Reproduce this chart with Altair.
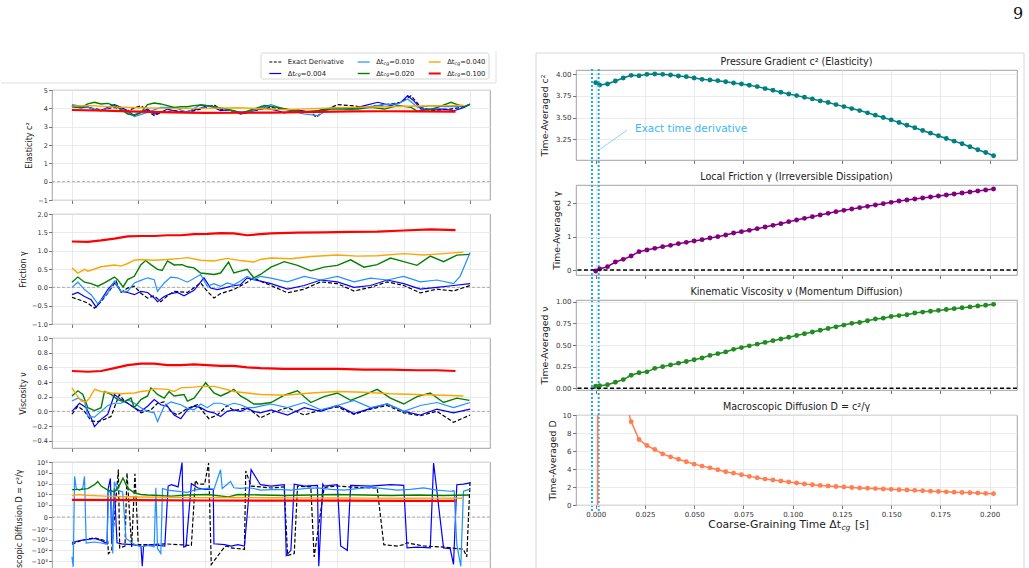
import altair as alt
import pandas as pd

# ============================ RIGHT FIGURE (time-averaged coefficients) ============================
DT = [0.0] + [round(0.002 + 0.004 * k, 3) for k in range(51)]
C2_AVG = [3.904, 3.877, 3.888, 3.923, 3.957, 3.988, 3.984, 4.000, 4.003, 4.000, 3.992, 3.980,
          3.973, 3.957, 3.942, 3.934, 3.927, 3.915, 3.900, 3.888, 3.873, 3.858, 3.835,
          3.816, 3.793, 3.773, 3.754, 3.735, 3.716, 3.693, 3.674, 3.650, 3.627, 3.604, 3.581,
          3.555, 3.528, 3.501, 3.474, 3.443, 3.412, 3.382, 3.351, 3.320, 3.290, 3.259, 3.228,
          3.197, 3.163, 3.128, 3.097, 3.059]
GAMMA_AVG = [-0.03, 0.03, 0.10, 0.24, 0.32, 0.42, 0.55, 0.60, 0.65, 0.70, 0.74, 0.79, 0.83, 0.87,
             0.91, 0.96, 1.00, 1.05, 1.11, 1.15, 1.19, 1.24, 1.29, 1.34, 1.39, 1.45, 1.50, 1.55,
             1.60, 1.65, 1.70, 1.75, 1.79, 1.83, 1.87, 1.91, 1.95, 1.99, 2.03, 2.07, 2.10, 2.13,
             2.16, 2.19, 2.22, 2.25, 2.28, 2.31, 2.34, 2.37, 2.40, 2.43]
NU_AVG = [0.023, 0.03, 0.04, 0.07, 0.10, 0.15, 0.18, 0.19, 0.23, 0.25, 0.27, 0.29, 0.31, 0.33,
          0.35, 0.38, 0.40, 0.42, 0.45, 0.47, 0.49, 0.51, 0.53, 0.55, 0.57, 0.59, 0.61, 0.63,
          0.65, 0.67, 0.69, 0.71, 0.73, 0.75, 0.76, 0.78, 0.80, 0.81, 0.83, 0.84, 0.85, 0.87,
          0.88, 0.89, 0.90, 0.91, 0.92, 0.93, 0.94, 0.95, 0.96, 0.97]
D_AVG = [-130, 129, 38.9, 16.2, 12.4, 9.26, 7.27, 6.61, 6.16, 5.68, 5.35, 5.09, 4.80, 4.54,
         4.32, 4.13, 3.91, 3.69, 3.54, 3.36, 3.18, 3.03, 2.88, 2.77, 2.66, 2.55, 2.44, 2.33,
         2.25, 2.18, 2.11, 2.05, 2.00, 1.95, 1.90, 1.86, 1.82, 1.78, 1.74, 1.70, 1.66, 1.62,
         1.58, 1.54, 1.50, 1.46, 1.42, 1.39, 1.36, 1.33, 1.29, 1.26]
EXACT_BAND = [-0.0019, 0.0015]
R_XTICKS = [0.0, 0.025, 0.05, 0.075, 0.1, 0.125, 0.15, 0.175, 0.2]

# ============================ LEFT FIGURE (time series) ============================
# Elasticity c^2
C2_EX_T = [0.0, 0.24, 0.44, 0.64, 0.84, 1.04, 1.14, 1.24, 1.34, 1.54, 1.74, 2.04, 2.14, 2.24, 2.44, 2.64,
           2.70, 3.0, 3.30, 3.61, 3.68, 3.80, 4.0, 4.21, 4.41, 4.61, 4.81, 4.96, 5.11, 5.26, 5.41, 5.71, 5.91, 6.0]
C2_EX = [4.15, 4.05, 3.91, 4.05, 3.87, 4.15, 3.87, 3.60, 3.78, 3.87, 3.78, 4.05, 4.20, 3.96, 3.84, 3.73,
         3.85, 4.05, 3.91, 3.78, 3.51, 3.87, 4.20, 4.15, 4.05, 4.15, 4.24, 4.33, 4.69, 4.05, 3.87, 3.96, 4.09, 4.24]
C2_A_T = [0.0, 0.14, 0.24, 0.34, 0.44, 0.54, 0.64, 0.74, 0.84, 0.94, 1.04, 1.14, 1.24, 1.34, 1.44, 1.54,
          1.64, 1.74, 1.84, 1.94, 2.04, 2.14, 2.24, 2.34, 2.44, 2.54, 2.64, 2.90, 3.10, 3.20, 3.40, 3.60,
          3.81, 4.0, 4.21, 4.41, 4.61, 4.81, 4.96, 5.06, 5.16, 5.26, 5.41, 5.61, 5.76, 5.91, 5.99]
C2_A = [4.09, 4.02, 4.09, 3.91, 3.87, 4.05, 4.20, 4.05, 3.87, 3.60, 3.78, 3.96, 3.69, 3.78, 3.96, 3.87,
        3.78, 3.84, 3.91, 4.02, 4.15, 4.05, 3.87, 3.91, 3.87, 3.69, 3.78, 4.02, 3.87, 3.75, 3.91, 3.78,
        3.96, 4.02, 3.96, 4.15, 4.33, 4.15, 4.33, 4.69, 4.38, 3.96, 3.96, 3.96, 3.87, 4.05, 4.20]
C2_B_T = [0.0, 0.24, 0.44, 0.64, 0.84, 0.94, 1.14, 1.34, 1.54, 1.74, 1.94, 2.14, 2.44, 2.64, 3.0, 3.2,
          3.50, 3.71, 3.91, 4.21, 4.41, 4.71, 4.91, 5.06, 5.21, 5.41, 5.61, 5.91, 5.99]
C2_B = [4.20, 4.05, 3.87, 4.15, 3.78, 3.55, 3.78, 4.05, 4.05, 3.78, 4.20, 4.09, 3.84, 3.78, 4.20, 3.96,
        3.69, 3.60, 4.05, 3.96, 4.05, 4.20, 4.24, 4.51, 4.05, 4.15, 4.09, 4.09, 4.20]
C2_C_T = [0.0, 0.14, 0.24, 0.34, 0.44, 0.54, 0.64, 0.74, 0.84, 0.94, 1.04, 1.14, 1.24, 1.34, 1.44, 1.54,
          1.64, 1.74, 1.84, 1.94, 2.04, 2.14, 2.24, 2.34, 2.44, 2.54, 2.64, 2.90, 3.10, 3.30, 3.50, 3.71,
          3.91, 4.31, 4.51, 4.71, 4.91, 5.11, 5.21, 5.41, 5.51, 5.71, 5.81, 5.91, 5.99]
C2_C = [4.09, 4.05, 4.24, 4.33, 4.24, 4.27, 4.15, 3.96, 3.69, 3.64, 3.78, 4.20, 4.29, 4.24, 4.15, 4.05,
        4.09, 4.09, 4.15, 4.18, 4.15, 4.09, 4.02, 3.96, 3.87, 3.76, 3.84, 4.15, 4.05, 3.91, 3.82, 3.87,
        3.96, 3.96, 4.05, 3.96, 4.15, 4.05, 3.84, 3.96, 4.05, 4.33, 4.20, 4.09, 4.20]
C2_D_T = [0.0, 0.3, 0.6, 1.0, 1.5, 2.0, 2.5, 2.84, 3.2, 3.7, 4.2, 4.7, 5.2, 5.7, 5.9]
C2_D = [4.12, 4.15, 4.08, 4.03, 4.00, 4.00, 4.03, 3.98, 3.93, 4.00, 4.05, 4.09, 4.13, 4.15, 4.17]
C2_E_T = [0.0, 0.5, 1.0, 1.5, 2.0, 2.5, 3.0, 3.7, 4.2, 4.7, 5.2, 5.78]
C2_E = [3.91, 3.87, 3.82, 3.78, 3.75, 3.76, 3.77, 3.81, 3.83, 3.84, 3.83, 3.82]

# Friction gamma
G_EX_T = [0, 0.14, 0.24, 0.34, 0.44, 0.54, 0.665, 0.74, 0.84, 0.94, 1.04, 1.14, 1.24, 1.34, 1.44, 1.54,
          1.74, 1.94, 2.04, 2.14, 2.24, 2.44, 2.64, 2.74, 2.84,
          3.0, 3.25, 3.5, 3.75, 4.0, 4.25, 4.5, 4.75, 5.0, 5.25, 5.5, 5.75, 6.0]
G_EX = [-0.27, -0.36, -0.43, -0.57, -0.39, -0.16, 0.17, -0.14, -0.02, 0.03, -0.16, -0.29, -0.23, -0.39,
        -0.23, -0.11, -0.14, 0.12, -0.11, -0.29, -0.17, -0.06, 0.14, 0.26, 0.17,
        0.05, -0.15, -0.05, 0.15, 0.10, -0.10, 0.0, 0.15, 0.05, -0.15, -0.05, -0.10, 0.05]
G_A_T = [0, 0.09, 0.19, 0.29, 0.365, 0.44, 0.54, 0.64, 0.74, 0.84, 0.94, 1.04, 1.14, 1.24, 1.29, 1.39,
         1.49, 1.59, 1.69, 1.84, 1.99, 2.09, 2.19, 2.29, 2.39, 2.54, 2.64, 2.74, 2.84,
         3.0, 3.25, 3.5, 3.75, 4.0, 4.25, 4.5, 4.75, 5.0, 5.25, 5.5, 5.75, 6.0]
G_A = [-0.20, -0.14, -0.25, -0.34, -0.54, -0.34, -0.06, 0.14, -0.11, -0.14, -0.20, -0.11, -0.14, -0.29,
       -0.39, -0.25, -0.17, -0.14, -0.23, -0.08, 0.26, -0.02, -0.06, -0.02, 0.03, 0.07, 0.26, 0.21, 0.17,
       0.10, -0.05, 0.05, 0.20, 0.15, 0.0, 0.05, 0.20, 0.10, -0.05, 0.0, 0.05, 0.10]
G_B_T = [0, 0.09, 0.19, 0.29, 0.39, 0.54, 0.64, 0.74, 0.84, 0.94, 1.04, 1.14, 1.24, 1.29, 1.39, 1.49,
         1.59, 1.74, 1.94, 2.04, 2.14, 2.24, 2.34, 2.44, 2.54, 2.64, 2.74, 2.84,
         3.0, 3.25, 3.5, 3.75, 4.0, 4.25, 4.5, 4.75, 5.0, 5.25, 5.5, 5.75, 5.85, 6.0]
G_B = [0.0, 0.14, -0.06, -0.20, -0.45, -0.15, 0.17, -0.11, -0.11, 0.12, 0.19, 0.26, 0.21, -0.11, 0.12,
       0.28, 0.26, 0.14, 0.35, 0.03, 0.10, 0.03, 0.12, 0.07, 0.17, 0.30, 0.21, 0.30,
       0.25, 0.15, 0.30, 0.20, 0.30, 0.15, 0.25, 0.20, 0.30, 0.15, 0.20, 0.10, 0.30, 0.95]
G_C_T = [0, 0.09, 0.19, 0.29, 0.39, 0.49, 0.64, 0.69, 0.77, 0.84, 0.94, 1.04, 1.11, 1.19, 1.29, 1.36,
         1.44, 1.54, 1.66, 1.74, 1.84, 1.94, 2.14, 2.24, 2.36, 2.44, 2.54, 2.64, 2.74, 2.84,
         3.0, 3.2, 3.4, 3.6, 3.8, 4.0, 4.2, 4.4, 4.6, 4.8, 5.0, 5.2, 5.4, 5.6, 5.8, 5.99]
G_C = [0.14, 0.28, 0.14, 0.10, 0.03, 0.12, 0.28, 0.21, 0.01, 0.21, 0.30, 0.62, 0.73, 0.62, 0.49, 0.46,
       0.72, 0.61, 0.62, 0.56, 0.53, 0.39, 0.35, 0.39, 0.69, 0.39, 0.44, 0.49, 0.26, 0.35,
       0.55, 0.70, 0.60, 0.45, 0.55, 0.60, 0.75, 0.55, 0.62, 0.80, 0.70, 0.60, 0.85, 0.70, 0.88, 0.90]
G_D_T = [0, 0.09, 0.19, 0.24, 0.34, 0.44, 0.64, 0.74, 0.84, 0.94, 1.04, 1.24, 1.44, 1.64, 1.74, 1.94,
         2.14, 2.34, 2.54, 2.74, 2.84, 3.0, 3.3, 3.6, 4.0, 4.3, 4.6, 5.0, 5.3, 5.6, 5.9]
G_D = [0.53, 0.39, 0.49, 0.44, 0.50, 0.56, 0.61, 0.58, 0.65, 0.74, 0.76, 0.74, 0.76, 0.79, 0.81, 0.74,
       0.72, 0.79, 0.73, 0.69, 0.76, 0.80, 0.78, 0.84, 0.88, 0.85, 0.86, 0.92, 0.88, 0.92, 0.96]
G_E_T = [0, 0.24, 0.44, 0.64, 0.84, 1.04, 1.24, 1.44, 1.64, 1.84, 2.04, 2.24, 2.44, 2.64, 2.84,
         3.0, 3.4, 3.8, 4.2, 4.6, 5.0, 5.4, 5.78]
G_E = [1.25, 1.24, 1.28, 1.33, 1.39, 1.40, 1.40, 1.42, 1.42, 1.45, 1.46, 1.48, 1.47, 1.42, 1.45,
       1.47, 1.49, 1.50, 1.51, 1.52, 1.55, 1.58, 1.56]

# Viscosity nu
N_EX_T = [0, 0.09, 0.19, 0.29, 0.39, 0.49, 0.59, 0.715, 0.79, 0.94, 1.04, 1.19, 1.29, 1.39, 1.49, 1.59,
          1.74, 1.89, 1.99, 2.065, 2.19, 2.34, 2.44, 2.64, 2.79, 2.84,
          3.0, 3.25, 3.5, 3.75, 4.0, 4.25, 4.5, 4.75, 5.0, 5.25, 5.5, 5.75, 6.0]
N_EX = [-0.04, 0.07, 0.0, -0.13, -0.14, -0.11, -0.07, 0.23, 0.14, 0.05, -0.02, 0.02, 0.11, 0.13, 0.0,
        -0.05, 0.04, 0.09, -0.02, -0.10, -0.05, 0.08, 0.01, 0.05, -0.05, -0.09,
        -0.02, 0.05, -0.05, 0.02, 0.06, -0.04, 0.03, 0.08, -0.02, -0.06, 0.0, -0.15, -0.05]
N_A_T = [0, 0.115, 0.215, 0.29, 0.34, 0.44, 0.54, 0.64, 0.74, 0.84, 0.94, 1.04, 1.14, 1.24, 1.34, 1.44,
         1.54, 1.64, 1.74, 1.84, 1.94, 2.04, 2.14, 2.24, 2.34, 2.44, 2.54, 2.64, 2.74, 2.84,
         3.0, 3.25, 3.5, 3.75, 4.0, 4.25, 4.5, 4.75, 5.0, 5.25, 5.5, 5.75, 6.0]
N_A = [0.0, 0.11, 0.05, -0.09, -0.21, -0.11, -0.04, 0.23, 0.16, 0.11, 0.05, 0.0, 0.07, 0.16, 0.09, 0.07,
       -0.05, -0.10, 0.02, 0.07, 0.05, 0.0, -0.02, -0.07, 0.0, 0.02, 0.0, 0.04, 0.0, -0.02,
       0.02, -0.05, 0.05, 0.0, 0.08, -0.03, 0.04, 0.10, 0.0, -0.05, 0.03, -0.02, 0.03]
N_B_T = [0, 0.09, 0.19, 0.24, 0.34, 0.44, 0.54, 0.64, 0.74, 0.84, 0.94, 1.04, 1.14, 1.24, 1.29, 1.39,
         1.49, 1.64, 1.74, 1.84, 1.94, 2.04, 2.14, 2.24, 2.34, 2.44, 2.54, 2.64, 2.74, 2.84,
         3.0, 3.25, 3.5, 3.75, 4.0, 4.25, 4.5, 4.75, 5.0, 5.25, 5.5, 5.75, 6.0]
N_B = [0.14, 0.18, 0.14, -0.07, -0.08, 0.0, 0.08, 0.11, 0.11, 0.16, 0.11, 0.05, 0.0, -0.02, -0.14, 0.07,
       0.13, 0.09, 0.04, 0.02, 0.10, 0.05, 0.11, 0.11, 0.08, 0.11, 0.09, 0.05, 0.05, 0.07,
       0.10, 0.05, 0.12, 0.02, 0.08, 0.15, 0.05, 0.10, 0.0, 0.08, 0.12, 0.05, 0.12]
N_C_T = [0, 0.09, 0.165, 0.24, 0.34, 0.44, 0.49, 0.59, 0.69, 0.79, 0.89, 0.94, 1.04, 1.14, 1.19, 1.29,
         1.39, 1.465, 1.54, 1.69, 1.74, 1.84, 1.94, 2.015, 2.14, 2.24, 2.34, 2.44, 2.54, 2.64, 2.74, 2.84,
         3.0, 3.2, 3.4, 3.6, 3.8, 4.0, 4.2, 4.4, 4.6, 4.8, 5.0, 5.2, 5.4, 5.6, 5.8, 5.99]
N_C = [0.21, 0.28, 0.23, 0.05, 0.01, 0.05, 0.27, 0.23, 0.16, 0.13, 0.18, 0.05, 0.16, 0.21, 0.32, 0.23,
       0.18, 0.27, 0.21, 0.23, 0.14, 0.18, 0.30, 0.39, 0.25, 0.21, 0.25, 0.30, 0.21, 0.16, 0.10, 0.10,
       0.12, 0.22, 0.28, 0.12, 0.20, 0.25, 0.15, 0.22, 0.30, 0.18, 0.10, 0.20, 0.25, 0.12, 0.18, 0.15]
N_D_T = [0, 0.065, 0.14, 0.215, 0.265, 0.34, 0.44, 0.59, 0.74, 0.94, 1.04, 1.14, 1.24, 1.44, 1.54, 1.64,
         1.84, 1.94, 2.14, 2.24, 2.44, 2.64, 2.84, 3.2, 3.6, 4.0, 4.4, 4.8, 5.2, 5.6, 5.9]
N_D = [0.32, 0.23, 0.14, 0.13, 0.18, 0.30, 0.27, 0.25, 0.24, 0.25, 0.27, 0.28, 0.31, 0.30, 0.27, 0.32,
       0.33, 0.34, 0.34, 0.32, 0.27, 0.25, 0.23, 0.22, 0.25, 0.27, 0.26, 0.24, 0.23, 0.22, 0.21]
N_E_T = [0, 0.24, 0.44, 0.64, 0.84, 1.04, 1.24, 1.44, 1.64, 1.84, 2.04, 2.24, 2.44, 2.64, 2.84,
         3.2, 3.6, 4.0, 4.4, 4.8, 5.2, 5.5, 5.78]
N_E = [0.55, 0.54, 0.55, 0.59, 0.63, 0.65, 0.65, 0.63, 0.63, 0.64, 0.63, 0.62, 0.62, 0.60, 0.59,
       0.58, 0.58, 0.58, 0.57, 0.57, 0.56, 0.56, 0.55]

# Macroscopic diffusion D (symlog)
D_EX_T = [0.0, 0.14, 0.34, 0.44, 0.54, 0.55, 0.6, 0.7, 0.72, 0.8, 0.83, 0.9, 0.95, 1.0, 1.2, 1.4, 1.6,
          1.8, 1.86, 1.9, 2.0, 2.06, 2.1, 2.3, 2.33, 2.4, 2.6, 2.62, 2.7, 2.84,
          3.0, 3.2, 3.25, 3.35, 3.4, 3.6, 3.65, 3.8, 3.85, 4.0, 4.3, 4.6, 4.7, 4.9, 5.0, 5.05, 5.3,
          5.6, 5.9, 5.95, 6.0]
D_EX = [-27, -12, -7, -10, -15, -200, -100, 2000, -60, -40, 1000, -50, 800, -30, -30, -25, -30,
        -35, 200, 90, 90, 8000, -2000, -50, -40, -60, -80, 1500, 60, 50,
        40, 50, -300, -200, 60, 50, -400, 40, 50, 60, 45, 40, -30, -40, -30, -20, -40,
        -50, -80, -400, 200]
D_A_T = [0.0, 0.14, 0.34, 0.44, 0.53, 0.545, 0.58, 0.60, 0.64, 0.68, 0.75, 0.9, 1.04, 1.06, 1.08, 1.2,
         1.4, 1.45, 1.5, 1.6, 1.66, 1.685, 1.72, 1.8, 1.9, 2.0, 2.13, 2.14, 2.3, 2.4, 2.5, 2.6, 2.7, 2.84,
         3.0, 3.2, 3.23, 3.3, 3.35, 3.5, 3.7, 3.72, 3.78, 3.8, 4.0, 4.05, 4.15, 4.2, 4.5, 4.8, 5.0,
         5.05, 5.2, 5.4, 5.45, 5.6, 5.7, 5.75, 5.8, 5.9, 6.0]
D_A = [-19, -12, -8, -12, -24, 30, 300, -25, 40, -20, -25, -30, -40, -3000, -40, -30,
       -40, 60, 80, 50, 9000, -50, -40, 100, 40, 30, 30, -25, -30, -40, -30, -40, 2000, 80,
       60, 80, -300, -100, 90, 60, 70, -3000, 90, 60, 80, -40, -100, 70, 60, 80, 70,
       -60, -50, -60, 8000, -60, -70, -2000, 80, 90, 120]
D_B_T = [0.0, 0.02, 0.04, 0.065, 0.115, 0.165, 0.19, 0.215, 0.34, 0.44, 0.53, 0.55, 0.59, 0.615, 0.64,
         0.69, 0.765, 0.815, 0.94, 1.04, 1.14, 1.24, 1.265, 1.29, 1.34, 1.365, 1.44, 1.64, 1.74, 1.84,
         2.04, 2.14, 2.24, 2.265, 2.39, 2.44, 2.54, 2.64, 2.74, 2.84,
         3.1, 3.3, 3.5, 3.7, 3.9, 4.1, 4.3, 4.5, 4.7, 4.9, 5.1, 5.3, 5.5, 5.7, 5.76, 5.8, 5.86, 5.9,
         5.95, 6.0]
D_B = [-400, -3300, 470, 36, 25, 41, 470, -21, -17, -21, -27, 14, 25, -200, 150,
       25, 17, -8, -27, -48, -36, -48, 42, -68, -200, 36, 25, 18, 16, 25,
       36, 30, 1900, 36, 160, 42, 36, 42, 36, 25,
       30, 25, 35, 40, 30, 25, 35, 45, 35, 25, 30, 40, 25, 20, 22, -30, -3000, 20,
       25, 30]
D_C_T = [0, 0.14, 0.24, 0.34, 0.39, 0.44, 0.54, 0.64, 0.71, 0.77, 0.84, 0.94, 1.04, 1.14, 1.5, 1.74,
         2.04, 2.36, 2.5, 2.84, 3.2, 3.6, 4.0, 4.4, 4.8, 5.2, 5.6, 5.99]
D_C = [28, 30, 35, 80, 160, 60, 25, 18, 60, 330, 40, 14, 10, 9, 7, 9,
       10, 6, 10, 9, 8, 9, 10, 9, 8, 9, 8, 9]
D_D_T = [0, 0.1, 0.2, 0.5, 1, 1.5, 2, 2.5, 3, 3.5, 4, 4.5, 5, 5.5, 5.9]
D_D = [7.8, 10.0, 8.5, 7.0, 5.8, 5.3, 5.1, 5.2, 5.0, 4.8, 4.7, 4.6, 4.5, 4.6, 4.4]
D_E_T = [0, 1, 2, 3, 4, 5, 5.78]
D_E = [3.1, 2.9, 2.7, 2.6, 2.6, 2.5, 2.45]
D_TICKS = [10000, 1000, 100, 10, 1, 0, -1, -10, -100, -1000, -10000]

SERIES_STYLE = [  # name, color, width, dash
    ("Exact Derivative", "#000000", 1.2, [4, 2]),
    ("0.004", "#0000ff", 1.2, None),
    ("0.010", "#1e90ff", 1.2, None),
    ("0.020", "#008000", 1.4, None),
    ("0.040", "#ffa500", 1.4, None),
    ("0.100", "#ff0000", 2.2, None),
]

FONT = "DejaVu Sans"
GRID = "#e6e6e6"
TICK = "#555555"
ANNO = "#1aa7ec"


def check(*pairs):
    for t, v in pairs:
        assert len(t) == len(v), (len(t), len(v))


check((C2_EX_T, C2_EX), (C2_A_T, C2_A), (C2_B_T, C2_B), (C2_C_T, C2_C), (C2_D_T, C2_D), (C2_E_T, C2_E),
      (G_EX_T, G_EX), (G_A_T, G_A), (G_B_T, G_B), (G_C_T, G_C), (G_D_T, G_D), (G_E_T, G_E),
      (N_EX_T, N_EX), (N_A_T, N_A), (N_B_T, N_B), (N_C_T, N_C), (N_D_T, N_D), (N_E_T, N_E),
      (D_EX_T, D_EX), (D_A_T, D_A), (D_B_T, D_B), (D_C_T, D_C), (D_D_T, D_D), (D_E_T, D_E),
      (DT, C2_AVG), (DT, GAMMA_AVG), (DT, NU_AVG), (DT, D_AVG))


def txt(text, x, y, size, color="#222222", align="left", baseline="middle", style="normal", font=FONT):
    return alt.Chart(pd.DataFrame({"s": [text]})).mark_text(
        fontSize=size, color=color, align=align, baseline=baseline, fontStyle=style, font=font
    ).encode(text="s:N", x=alt.value(x), y=alt.value(y))


def anchor(x, y):
    return alt.Chart(pd.DataFrame({"a": [0]})).mark_rect(color="white").encode(
        x=alt.value(x), x2=alt.value(x + 1), y=alt.value(y), y2=alt.value(y + 1))


def seg(x1, y1, x2, y2, color, width):
    return alt.Chart(pd.DataFrame({"a": [0]})).mark_rule(color=color, strokeWidth=width).encode(
        x=alt.value(x1), x2=alt.value(x2), y=alt.value(y1), y2=alt.value(y2))


# ------------------------------------------------------------------ right panels
def right_panel(vals, color, ydom, yticks, yfmt, ytitle, title_x, ptitle, xlabels=False,
                clip=False, zero=False, extra=None):
    x = alt.X("dt:Q", scale=alt.Scale(domain=[-0.0100, 0.2139], nice=False, zero=False),
              axis=alt.Axis(values=R_XTICKS, format=".3f", labels=xlabels, title=None, grid=True,
                            gridColor=GRID, gridWidth=0.8, domain=False, tickSize=3.5, tickColor=TICK,
                            tickWidth=0.8, labelFontSize=7, labelColor="#333333", labelPadding=1.5,
                            labelFont=FONT))
    y = alt.Y("v:Q", scale=alt.Scale(domain=ydom, nice=False, zero=False),
              axis=alt.Axis(values=yticks, format=yfmt, title=ytitle, titleX=title_x, titleY=45,
                            titleAngle=270, titleAlign="center", titleBaseline="middle",
                            titleFontSize=9.3, titleFontWeight="normal", titleColor="#222222",
                            titleFont=FONT, grid=True, gridColor=GRID, gridWidth=0.8, domain=False,
                            tickSize=3.5, tickColor=TICK, tickWidth=0.8, labelFontSize=7,
                            labelColor="#333333", labelPadding=1.5, labelFont=FONT))
    base = alt.Chart(pd.DataFrame({"dt": DT, "v": vals})).encode(x=x, y=y)
    layers = [base.mark_line(color=color, strokeWidth=1.5, clip=clip),
              base.mark_circle(color=color, size=24, opacity=1, clip=clip)]
    if zero:
        layers.append(alt.Chart(pd.DataFrame({"v": [0.0]})).mark_rule(
            color="black", strokeWidth=1.3, strokeDash=[4, 2.5]).encode(y=y))
    layers.append(txt(ptitle, 220.5, -8, 9.6, align="center"))
    if extra:
        layers += extra
    return alt.layer(*layers).properties(width=441, height=90)


xr = alt.X("dt:Q", scale=alt.Scale(domain=[-0.0100, 0.2139], nice=False, zero=False))
r1_extra = [
    alt.Chart(pd.DataFrame({"dt": EXACT_BAND})).mark_rule(
        color=ANNO, strokeWidth=2, strokeDash=[2, 2]).encode(x=xr, y=alt.value(-1), y2=alt.value(443)),
    seg(23, 80, 51, 60, "#5cc4f5", 0.7),
    txt("Exact time derivative", 59, 59, 10.5, color="#3bb8f3"),
    alt.Chart(pd.DataFrame({"a": [0]})).mark_rect(fillOpacity=0, stroke="#d6d6d6", strokeWidth=1).encode(
        x=alt.value(-40), x2=alt.value(448), y=alt.value(-17), y2=alt.value(531)),
    txt("9", 442, -56, 16, color="#111111", align="center", font="DejaVu Serif"),
    anchor(-53, -69),
]
r1 = right_panel(C2_AVG, "#008080", [3.01, 4.05], [3.25, 3.5, 3.75, 4.0], ".2f",
                 "Time-Averaged c²", -32, "Pressure Gradient c² (Elasticity)", extra=r1_extra)
r2 = right_panel(GAMMA_AVG, "#800080", [-0.15, 2.55], [0, 1, 2], "d",
                 "Time-Averaged γ", -20, "Local Friction γ (Irreversible Dissipation)", zero=True)
r3 = right_panel(NU_AVG, "#228b22", [-0.02, 1.02], [0, 0.25, 0.5, 0.75, 1.0], ".2f",
                 "Time-Averaged ν", -32, "Kinematic Viscosity ν (Momentum Diffusion)", zero=True)
r4_extra = [
    txt("Coarse-Graining Time Δt", 265, 109.5, 10.8, align="right"),
    txt("cg", 265.5, 112.5, 7.5, style="italic"),
    txt("[s]", 279, 109.5, 10.8),
]
r4 = right_panel(D_AVG, "#ff7f50", [0, 10], [0, 2, 4, 6, 8, 10], "d",
                 "Time-Averaged D", -24, "Macroscopic Diffusion D = c²/γ", xlabels=True, clip=True,
                 extra=r4_extra)

# ------------------------------------------------------------------ left panels
SUP = {"0": "⁰", "1": "¹", "2": "²", "3": "³", "4": "⁴"}


def sym_label(v):
    if v == 0:
        return "0"
    e = len(str(abs(v))) - 1
    return ("−" if v < 0 else "") + "10" + SUP[str(e)]


D_LABEL_EXPR = "''"
for _v in D_TICKS:
    D_LABEL_EXPR = f"datum.value == {_v} ? '{sym_label(_v)}' : ({D_LABEL_EXPR})"


def left_panel(series, ydom, yticks, ytitle, title_x, title_y=55, title_align="center", yfmt=None,
               label_expr=None, symlog=False):
    x = alt.X("t:Q", scale=alt.Scale(domain=[-0.3, 6.3], nice=False, zero=False),
              axis=alt.Axis(values=[0, 1, 2, 3, 4, 5, 6], labels=False, title=None, grid=True,
                            gridColor=GRID, gridWidth=0.8, domain=False, tickSize=3.5, tickColor=TICK,
                            tickWidth=0.8))
    if symlog:
        ysc = alt.Scale(type="symlog", constant=0.084, domain=ydom, nice=False, zero=False)
    else:
        ysc = alt.Scale(domain=ydom, nice=False, zero=False)
    axis_kw = dict(values=yticks, title=ytitle, titleX=title_x, titleY=title_y, titleAngle=270,
                   titleAlign=title_align, titleBaseline="middle", titleFontSize=8,
                   titleFontWeight="normal", titleColor="#222222", titleFont=FONT, grid=True,
                   gridColor=GRID, gridWidth=0.8, domain=False, tickSize=3.5, tickColor=TICK,
                   tickWidth=0.8, labelFontSize=6.5, labelColor="#333333", labelPadding=1.2,
                   labelFont=FONT)
    if yfmt:
        axis_kw["format"] = yfmt
    if label_expr:
        axis_kw["labelExpr"] = label_expr
    y = alt.Y("v:Q", scale=ysc, axis=alt.Axis(**axis_kw))
    layers = [alt.Chart(pd.DataFrame({"v": [0.0]})).mark_rule(
        color="#9a9a9a", strokeWidth=0.8, strokeDash=[3, 2]).encode(y=y)]
    for (T, V), (name, color, w, dash) in zip(series, SERIES_STYLE):
        kw = dict(color=color, strokeWidth=w, clip=True)
        if dash:
            kw["strokeDash"] = dash
        layers.append(alt.Chart(pd.DataFrame({"t": T, "v": V})).mark_line(**kw).encode(x=x, y=y))
    return alt.layer(*layers).properties(width=438, height=110)


p1 = left_panel([(C2_EX_T, C2_EX), (C2_A_T, C2_A), (C2_B_T, C2_B), (C2_C_T, C2_C), (C2_D_T, C2_D),
                 (C2_E_T, C2_E)], [-1, 5], [-1, 0, 1, 2, 3, 4, 5], "Elasticity c²", -23, yfmt="d")
p2 = left_panel([(G_EX_T, G_EX), (G_A_T, G_A), (G_B_T, G_B), (G_C_T, G_C), (G_D_T, G_D), (G_E_T, G_E)],
                [-1, 2], [-1.0, -0.5, 0.0, 0.5, 1.0, 1.5, 2.0], "Friction γ", -29, yfmt=".1f")
p3 = left_panel([(N_EX_T, N_EX), (N_A_T, N_A), (N_B_T, N_B), (N_C_T, N_C), (N_D_T, N_D), (N_E_T, N_E)],
                [-0.5, 1.0], [-0.4, -0.2, 0.0, 0.2, 0.4, 0.6, 0.8, 1.0], "Viscosity ν", -29, yfmt=".1f")
p4 = left_panel([(D_EX_T, D_EX), (D_A_T, D_A), (D_B_T, D_B), (D_C_T, D_C), (D_D_T, D_D), (D_E_T, D_E)],
                [-10000, 10000], D_TICKS, "Macroscopic Diffusion D = c²/γ", -33, title_y=7,
                title_align="right", label_expr=D_LABEL_EXPR, symlog=True)

# ------------------------------------------------------------------ legend (custom, above left figure)
LEG_POS = [(217.3, -8), (217.3, 3.5), (305.7, -8), (305.7, 3.5), (376.7, -8), (376.7, 3.5)]
leg_layers = [
    seg(-51, 13, 444, 13, "#d9d9d9", 0.8),
    seg(444, -19, 444, 13, "#d9d9d9", 0.8),
    alt.Chart(pd.DataFrame({"a": [0]})).mark_rect(fill="white", stroke="#cccccc", strokeWidth=0.8,
                                                 cornerRadius=2).encode(
        x=alt.value(209), x2=alt.value(437), y=alt.value(-17), y2=alt.value(9)),
]
for (lx, ly), (name, color, w, dash) in zip(LEG_POS, SERIES_STYLE):
    kw = dict(color=color, strokeWidth=min(w, 2.0))
    if dash:
        kw["strokeDash"] = [3, 1.5]
    leg_layers.append(alt.Chart(pd.DataFrame({"a": [0]})).mark_rule(**kw).encode(
        x=alt.value(lx), x2=alt.value(lx + 12), y=alt.value(ly)))
    tx = lx + 18.5
    if name.startswith("Exact"):
        leg_layers.append(txt(name, tx, ly, 6.8))
    else:
        leg_layers.append(txt("Δt", tx, ly, 6.8))
        leg_layers.append(txt("cg", tx + 7.3, ly + 1.8, 4.8, style="italic"))
        leg_layers.append(txt("=" + name, tx + 13.0, ly, 6.8))
leg_layers += [anchor(-51, -69), anchor(453, 31)]
legend = alt.layer(*leg_layers).properties(width=438, height=6,
                                           view=alt.ViewBackground(stroke="transparent"))

left = alt.vconcat(legend, p1, p2, p3, p4, spacing=14, bounds="flush")
right = alt.vconcat(r1, r2, r3, r4, spacing=25, bounds="flush")
chart = alt.hconcat(left, right, spacing=15).properties(padding=0).configure(
    font=FONT, background="white").configure_view(stroke="#8c8c8c", strokeWidth=0.8)

chart.save("out.html", embed_options={"renderer": "svg", "actions": False})
